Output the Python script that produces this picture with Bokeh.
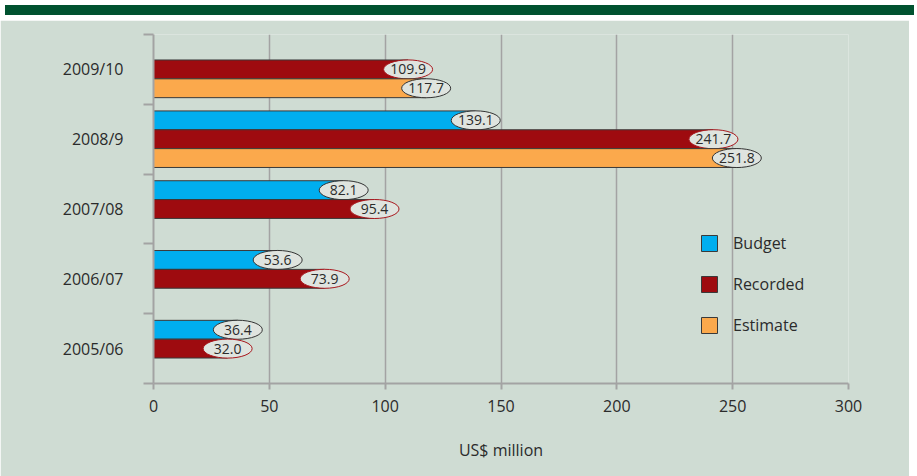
from bokeh.plotting import figure
from bokeh.models import (ColumnDataSource, Range1d, FixedTicker, Div, Legend, LegendItem)
from bokeh.layouts import column
from bokeh.core.properties import value
from bokeh.embed import file_html
from bokeh.resources import INLINE

years = ["2005/06", "2006/07", "2007/08", "2008/9", "2009/10"]
budget = [36.4, 53.6, 82.1, 139.1, None]
recorded = [32.0, 73.9, 95.4, 241.7, 109.9]
estimate = [None, None, None, 251.8, 117.7]
x_ticks = [0, 50, 100, 150, 200, 250, 300]

FONT = "Open Sans"
TXT = "#2b2b2b"
BG = "#cfdcd3"
GRID = "#a3a3a3"
BAR_H = 0.27

series = [
    ("Budget", budget, BAR_H, "#00aeef", "#333333"),
    ("Recorded", recorded, 0.0, "#9e0b0f", "#a8161c"),
    ("Estimate", estimate, -BAR_H, "#fba94c", "#333333"),
]

p = figure(width=909, height=456, output_backend="svg", toolbar_location=None,
           x_range=Range1d(0, 300), y_range=Range1d(-0.5, 4.5),
           min_border_left=153, min_border_right=61, min_border_top=14, min_border_bottom=93)
p.background_fill_color = BG
p.border_fill_color = BG
p.outline_line_color = None

items = []
for name, vals, off, color, ecol in series:
    ys = [i + off for i, v in enumerate(vals) if v is not None]
    xs = [v for v in vals if v is not None]
    src = ColumnDataSource(dict(y=ys, right=xs, lab=["%.1f" % v for v in xs]))
    r = p.hbar(y="y", left=0, right="right", height=BAR_H, source=src,
               fill_color=color, line_color="#3a3a3a", line_width=1)
    items.append(LegendItem(label=name, renderers=[r]))
    p.ellipse(x="right", y="y", width=49, height=19, width_units="screen", height_units="screen",
              source=src, fill_color="#dfe4df", line_color=ecol, line_width=1)
    p.text(x="right", y="y", text="lab", source=src, text_align="center", text_baseline="middle",
           text_font=value(FONT), text_font_size="14px", text_color=TXT)

legend = Legend(items=items, location=(546, 47), orientation="vertical")
legend.glyph_width = 20
legend.glyph_height = 20
legend.label_height = 20
legend.spacing = 19
legend.padding = 0
legend.margin = 0
legend.label_standoff = 14
legend.label_text_font = FONT
legend.label_text_font_size = "16px"
legend.label_text_color = TXT
legend.background_fill_alpha = 0
legend.border_line_alpha = 0
p.add_layout(legend)

# x axis
xa = p.xaxis[0]
xa.ticker = FixedTicker(ticks=x_ticks)
xa.axis_line_color = GRID
xa.axis_line_width = 2
xa.major_tick_line_color = GRID
xa.major_tick_line_width = 2
xa.major_tick_out = 6
xa.major_tick_in = 0
xa.minor_tick_line_color = None
xa.major_label_standoff = 10
xa.major_label_text_font = FONT
xa.major_label_text_font_size = "16px"
xa.major_label_text_color = TXT
xa.axis_label = "US$ million"
xa.axis_label_text_font = FONT
xa.axis_label_text_font_size = "16px"
xa.axis_label_text_font_style = "normal"
xa.axis_label_text_color = TXT
xa.axis_label_standoff = 24

# y axis
ya = p.yaxis[0]
ya.ticker = FixedTicker(ticks=list(range(len(years))),
                        minor_ticks=[i - 0.5 for i in range(len(years) + 1)])
ya.major_label_overrides = {i: y for i, y in enumerate(years)}
ya.axis_line_color = GRID
ya.axis_line_width = 2
ya.major_tick_out = 0
ya.major_tick_in = 0
ya.major_tick_line_color = None
ya.minor_tick_out = 10
ya.minor_tick_in = 0
ya.minor_tick_line_color = GRID
ya.minor_tick_line_width = 2
ya.major_label_standoff = 20
ya.major_label_text_font = FONT
ya.major_label_text_font_size = "16px"
ya.major_label_text_color = TXT

p.ygrid.visible = False
p.xgrid.ticker = FixedTicker(ticks=x_ticks)
p.xgrid.grid_line_color = GRID
p.xgrid.grid_line_width = 1.5

band = Div(width=909, height=10, styles={"background-color": "#00522f"})
layout = column(band, p, spacing=0)

open("out.html", "w").write(file_html(layout, INLINE))
